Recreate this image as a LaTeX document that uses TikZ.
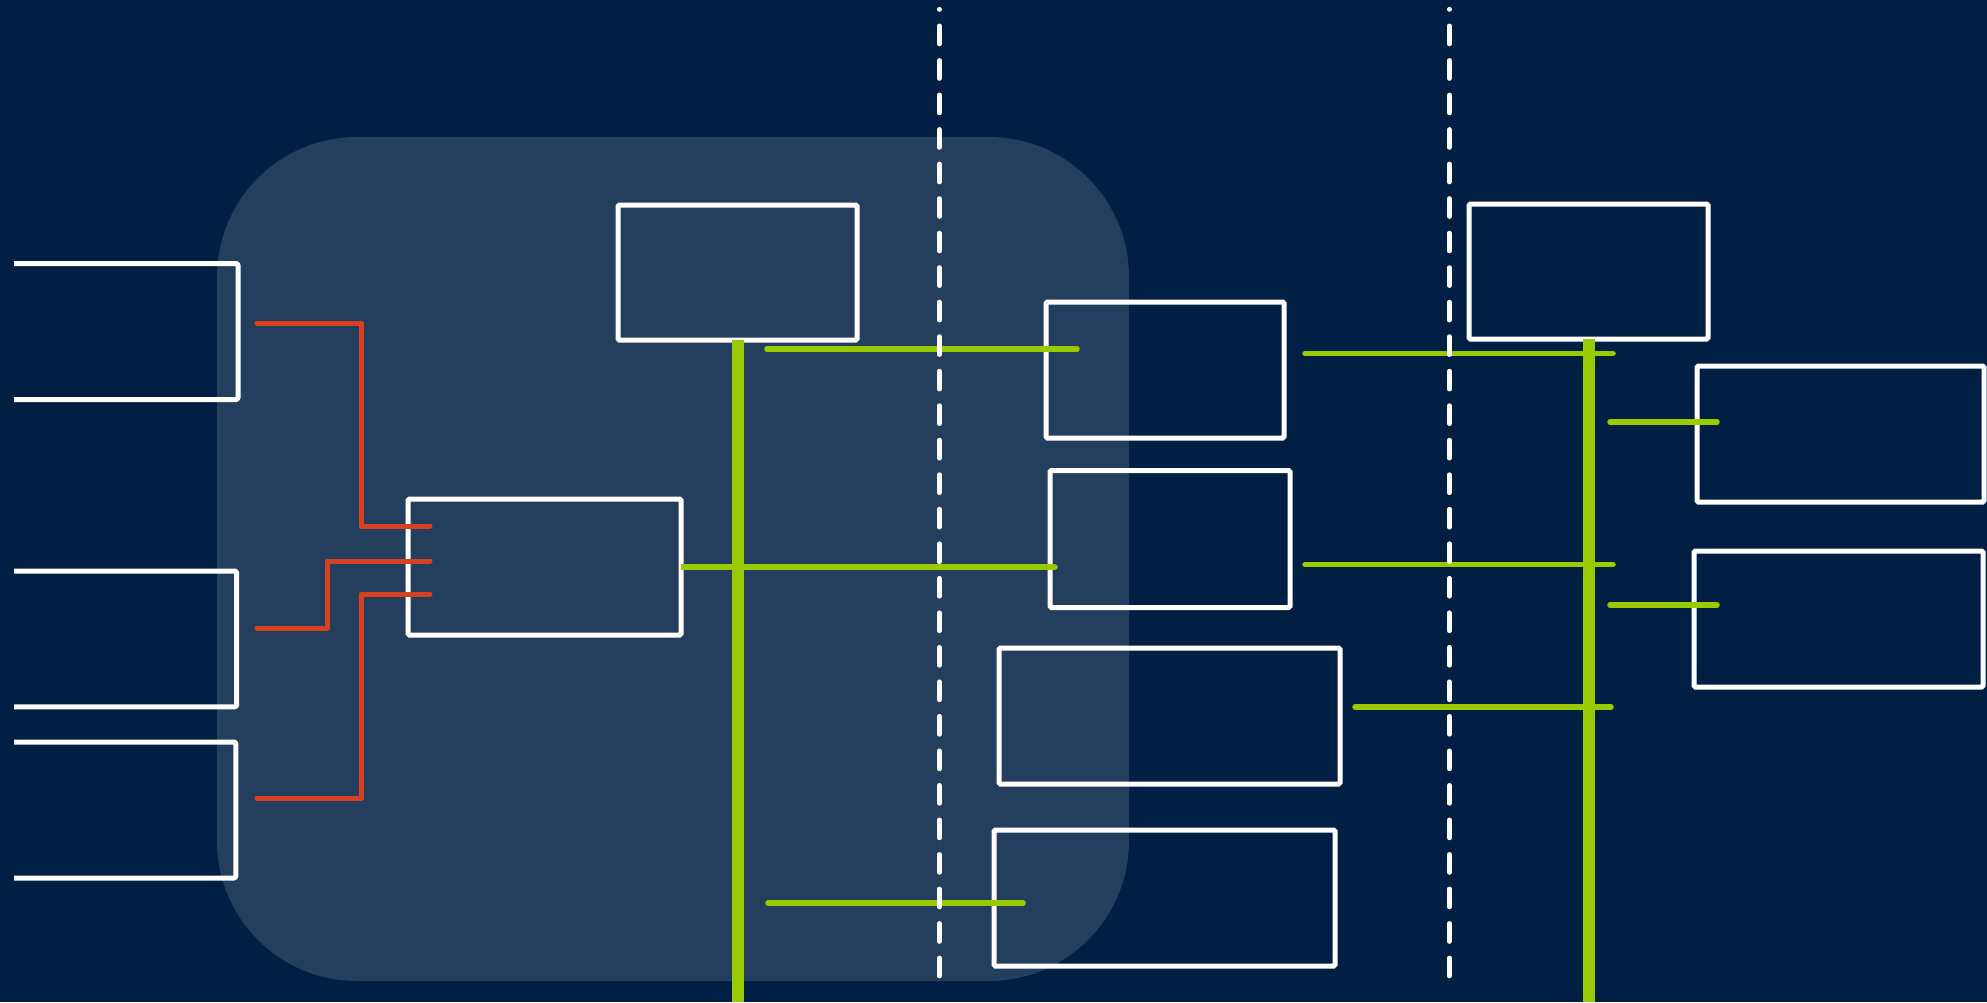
\documentclass[tikz,border=0pt]{standalone}
\definecolor{bgnavy}{HTML}{001F42}
\definecolor{panelblue}{HTML}{243E5D}
\definecolor{limegreen}{HTML}{99CC00}
\definecolor{redline}{HTML}{D64122}
\begin{document}
\begin{tikzpicture}[x=1pt,y=-1pt,
  box/.style={draw=white, line width=5pt, rounded corners=1.5pt, inner sep=0pt, outer sep=0pt},
  openbox/.style={draw=none, inner sep=0pt, outer sep=0pt},
  openedge/.style={draw=white, line width=5pt, line join=round, rounded corners=1.5pt},
  redconn/.style={draw=redline, line width=5pt, line cap=round, line join=round},
  greenconn/.style={draw=limegreen, line width=5.5pt, line cap=round},
  greenbus/.style={draw=limegreen, line width=12pt},
  divider/.style={draw=white, line width=4.7pt, line cap=round, dash pattern=on 18pt off 16.52pt, dash phase=17.9pt}]
% canvas
\useasboundingbox (0,0) rectangle (1987,1002);
\fill[bgnavy] (0,0) rectangle (1987,1002);
\fill[panelblue, rounded corners=140pt] (217,137) rectangle (1129,981);

% left open boxes
\node[openbox, minimum width=224pt, minimum height=136pt] (L1) at (126,331.5) {};
\node[openbox, minimum width=222.7pt, minimum height=135.8pt] (L2) at (125.35,638.9) {};
\node[openbox, minimum width=221.8pt, minimum height=136pt] (L3) at (124.9,810) {};
\draw[openedge] (L1.north west) -- (L1.north east) -- (L1.south east) -- (L1.south west);
\draw[openedge] (L2.north west) -- (L2.north east) -- (L2.south east) -- (L2.south west);
\draw[openedge] (L3.north west) -- (L3.north east) -- (L3.south east) -- (L3.south west);

% boxes
\node[box, minimum width=239pt, minimum height=135pt] (A) at (737.5,272.5) {};
\node[box, minimum width=273pt, minimum height=136pt] (B) at (544.5,567) {};
\node[box, minimum width=238pt, minimum height=136pt] (C) at (1165,370) {};
\node[box, minimum width=240pt, minimum height=137pt] (G) at (1170,539) {};
\node[box, minimum width=341pt, minimum height=136pt] (H) at (1169.5,716) {};
\node[box, minimum width=341pt, minimum height=136pt] (I) at (1164.5,898) {};
\node[box, minimum width=239pt, minimum height=135pt] (D) at (1588.5,271.5) {};
\node[box, minimum width=287pt, minimum height=136pt] (E) at (1840.5,434) {};
\node[box, minimum width=289pt, minimum height=136pt] (F) at (1838.5,619) {};

% bus ends
\coordinate (busAend) at (737.5,1002);
\coordinate (busDend) at (1588.5,1002);
\draw[greenbus] (A.south) -- (busAend);
\draw[greenbus] (D.south) -- (busDend);

% red connectors
\coordinate (r1s) at (257,323);  \coordinate (r1e) at (430,526);
\coordinate (r2s) at (257,628);  \coordinate (r2e) at (430,561);
\coordinate (r3s) at (257,798);  \coordinate (r3e) at (430,594);
\draw[redconn] (r1s) -- (361,323) -- (361,526) -- (r1e);
\draw[redconn] (r2s) -- (327,628) -- (327,561) -- (r2e);
\draw[redconn] (r3s) -- (361,798) -- (361,594) -- (r3e);

% green connectors
\coordinate (g1s) at (767,349);   \coordinate (g1e) at (1077,349);
\coordinate (g2e) at (1055,567);
\coordinate (g3s) at (1305,353.5); \coordinate (g3e) at (1613,353.5);
\coordinate (g4s) at (1305,564.5); \coordinate (g4e) at (1613,564.5);
\coordinate (g5s) at (1355,707);   \coordinate (g5e) at (1611,707);
\coordinate (g6s) at (1610,422);   \coordinate (g6e) at (1717,422);
\coordinate (g7s) at (1610,605);   \coordinate (g7e) at (1717,605);
\coordinate (g8s) at (768,903);    \coordinate (g8e) at (1023,903);
\draw[greenconn] (g1s) -- (g1e);
\draw[greenconn, line cap=butt] (B.east) -- (g2e);
\draw[greenconn] (g2e) -- (g2e);
\draw[greenconn] (g3s) -- (g3e);
\draw[greenconn] (g4s) -- (g4e);
\draw[greenconn] (g5s) -- (g5e);
\draw[greenconn] (g6s) -- (g6e);
\draw[greenconn] (g7s) -- (g7e);
\draw[greenconn] (g8s) -- (g8e);

% dashed dividers
\coordinate (d1t) at (939.3,9.3);  \coordinate (d1b) at (939.3,976.3);
\coordinate (d2t) at (1449.3,9.3); \coordinate (d2b) at (1449.3,976.3);
\draw[divider] (d1t) -- (d1b);
\draw[divider] (d2t) -- (d2b);
\end{tikzpicture}
\end{document}
